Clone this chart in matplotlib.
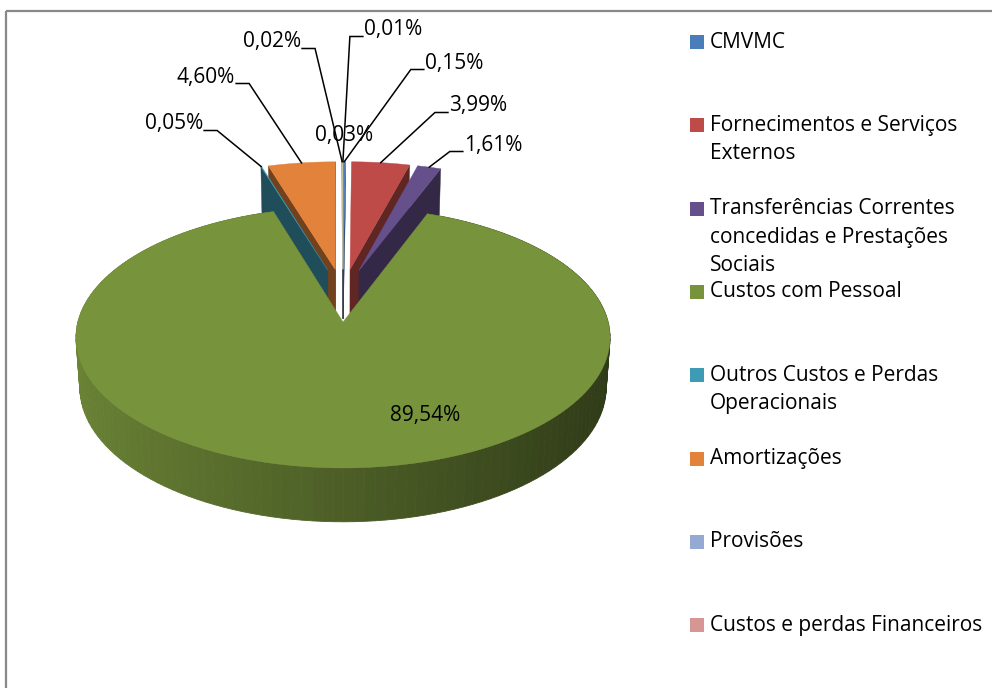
import textwrap
import numpy as np
import matplotlib
matplotlib.use("Agg")
import matplotlib.pyplot as plt
from matplotlib.patches import Polygon, Rectangle
from matplotlib.colors import to_rgb

# ---------------- data ----------------
categories = ["CMVMC",
              "Fornecimentos e Serviços Externos",
              "Transferências Correntes concedidas e Prestações Sociais",
              "Custos com Pessoal",
              "Outros Custos e Perdas Operacionais",
              "Amortizações",
              "Provisões",
              "Custos e perdas Financeiros"]
values = [0.15, 3.99, 1.61, 89.54, 0.05, 4.60, 0.02, 0.03]
# ninth slice (its legend entry falls outside the picture)
extra_value = 0.01

colors = ["#4A7EBB", "#BE4B48", "#66508C", "#77933C",
          "#3D9BB3", "#E3823A", "#95AAD2", "#D79594"]
extra_color = "#C3D69B"

plt.rcParams["font.family"] = ["Open Sans", "DejaVu Sans"]

fig = plt.figure(figsize=(9.92, 6.88), dpi=100)
ax = fig.add_axes([0, 0, 1, 1])
ax.set_xlim(0, 992)
ax.set_ylim(688, 0)
ax.axis("off")

# chart border (partly outside the picture)
ax.add_patch(Rectangle((5.5, 10.5), 1100, 800, fill=False,
                       edgecolor="#888888", lw=1.6))

# ---------------- 3D pie projection ----------------
CX, CY = 343.0, 322.0
FOC, DIST = 1946.0, 7.34
ELEV = np.radians(29.0)
THICK = 0.217
CE, SE = np.cos(ELEV), np.sin(ELEV)
CAM = np.array([0.0, -DIST * CE, DIST * SE])
EXPLODE, LIFT = 0.2, 0.12


def proj(X, Y, Z):
    X, Y, Z = np.asarray(X, float), np.asarray(Y, float), np.asarray(Z, float)
    d = DIST + Y * CE - Z * SE
    return CX + FOC * X / d, CY - FOC * (Y * SE + Z * CE) / d


def shade(col, k):
    r, g, b = to_rgb(col)
    return (min(r * k, 1), min(g * k, 1), min(b * k, 1))


all_values = values + [extra_value]
all_colors = colors + [extra_color]
total = float(sum(all_values))
edges = np.concatenate([[0.0], np.cumsum(all_values)]) / total * 360.0
main = int(np.argmax(all_values))

slices = []
for i in range(len(all_values)):
    t0, t1 = edges[i], edges[i + 1]
    mid = np.radians((t0 + t1) / 2)
    if i == main:
        off = np.array([0.0, 0.0, 0.0])
    else:
        off = np.array([EXPLODE * np.sin(mid), EXPLODE * np.cos(mid), LIFT])
    slices.append(dict(t0=t0, t1=t1, mid=mid, off=off, col=all_colors[i]))


def top_poly(s, n=120):
    t = np.radians(np.linspace(s["t0"], s["t1"], max(3, int(n * (s["t1"] - s["t0"]) / 360) + 3)))
    ox, oy, oz = s["off"]
    X = np.concatenate([[ox], ox + np.sin(t)])
    Y = np.concatenate([[oy], oy + np.cos(t)])
    Z = np.full_like(X, oz)
    px, py = proj(X, Y, Z)
    return np.column_stack([px, py])


# --- small (exploded) slices: radial faces first, far to near ---
faces = []
for i, s in enumerate(slices):
    if i == main:
        continue
    ox, oy, oz = s["off"]
    for phi, sgn in ((s["t0"], -1), (s["t1"], 1)):
        p = np.radians(phi)
        n = sgn * np.array([np.cos(p), -np.sin(p), 0.0])
        if np.dot(n, CAM - s["off"]) <= 0:
            continue
        X = [ox, ox + np.sin(p), ox + np.sin(p), ox]
        Y = [oy, oy + np.cos(p), oy + np.cos(p), oy]
        Z = [oz, oz, oz - THICK, oz - THICK]
        px, py = proj(X, Y, Z)
        cen = np.array([np.mean(X), np.mean(Y), np.mean(Z)])
        dist = np.linalg.norm(cen - CAM)
        faces.append((dist, np.column_stack([px, py]), shade(s["col"], 0.5)))
faces.sort(key=lambda f: -f[0])
for _, poly, c in faces:
    ax.add_patch(Polygon(poly, closed=True, facecolor=c, edgecolor=c, lw=0.3))

for i, s in enumerate(slices):
    if i == main:
        continue
    poly = top_poly(s)
    ax.add_patch(Polygon(poly, closed=True, facecolor=s["col"],
                         edgecolor=s["col"], lw=0.3))

# --- main slice: side band with shading, then top ---
g = slices[main]
nseg = 160
tt = np.linspace(g["t0"], g["t1"], nseg + 1)
for a0, a1 in zip(tt[:-1], tt[1:]):
    r0, r1 = np.radians(a0), np.radians(a1)
    X = [np.sin(r0), np.sin(r1), np.sin(r1), np.sin(r0)]
    Y = [np.cos(r0), np.cos(r1), np.cos(r1), np.cos(r0)]
    Z = [0, 0, -THICK, -THICK]
    px, py = proj(X, Y, Z)
    k = 0.64 - 0.25 * np.sin((r0 + r1) / 2)
    c = shade(g["col"], k)
    ax.add_patch(Polygon(np.column_stack([px, py]), closed=True,
                         facecolor=c, edgecolor=c, lw=0.6))
ax.add_patch(Polygon(top_poly(g, 400), closed=True, facecolor=g["col"],
                     edgecolor=g["col"], lw=0.3))

# ---------------- data labels ----------------
label_pos = {0: (454, 63), 1: (478, 106), 2: (493, 145), 3: (425, 415),
             4: (174, 124), 5: (206, 77), 6: (272, 42), 7: (344, 135),
             8: (393, 30)}
no_leader = {3, 7}
FS = 15
texts = {}
for i, s in enumerate(slices):
    pct = all_values[i] / total * 100
    lab = f"{pct:.2f}%".replace(".", ",")
    x, y = label_pos[i]
    texts[i] = ax.text(x, y, lab, ha="center", va="center", fontsize=FS,
                       color="black", zorder=5)

fig.canvas.draw()
rend = fig.canvas.get_renderer()
inv = ax.transData.inverted()
for i, s in enumerate(slices):
    if i in no_leader:
        continue
    bb = texts[i].get_window_extent(rend)
    (x0, yb), (x1, yt) = inv.transform([[bb.x0, bb.y0], [bb.x1, bb.y1]])
    ox, oy, oz = s["off"]
    ax_, ay_ = proj(ox + np.sin(s["mid"]), oy + np.cos(s["mid"]), oz)
    ax_, ay_ = float(ax_), float(ay_)
    ly = yb - 4
    if ax_ > (x0 + x1) / 2:
        xs = [x1 + 1, x1 + 14, ax_]
    else:
        xs = [x0 - 1, x0 - 14, ax_]
    ax.plot(xs, [ly, ly, ay_], color="black", lw=1.1, zorder=4,
            solid_joinstyle="miter")

# ---------------- legend ----------------
LEG_SQ_X, LEG_TX_X = 690, 710
LEG_Y0, LEG_DY, LINE_DY = 42, 83.3, 28.5
for i, (cat, col) in enumerate(zip(categories, colors)):
    y = LEG_Y0 + i * LEG_DY
    ax.add_patch(Rectangle((LEG_SQ_X, y - 7), 14, 14, facecolor=col,
                           edgecolor="none"))
    for k, line in enumerate(textwrap.fill(cat, 27).split("\n")):
        ax.text(LEG_TX_X, y + k * LINE_DY, line, ha="left", va="center",
                fontsize=FS, color="black")

fig.savefig("out.png", dpi=100)
